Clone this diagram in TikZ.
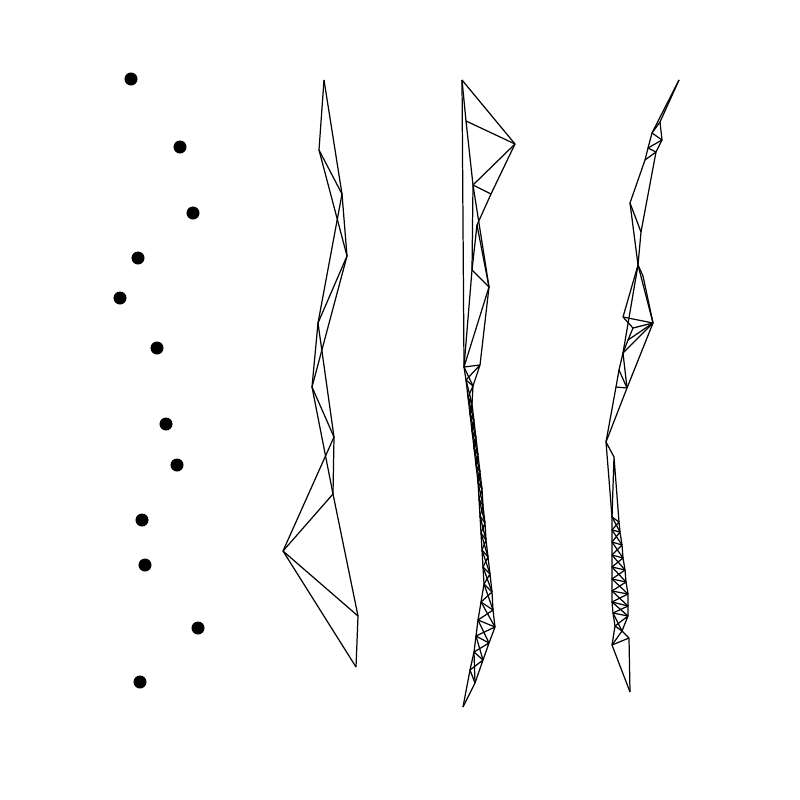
\documentclass[tikz,border=0pt]{standalone}
\usepackage{tikz}
\usetikzlibrary{positioning}
\tikzset{
  seed/.style={circle, fill=black, inner sep=0pt, minimum size=0.13cm},
  mesh/.style={black, line width=0.35pt, line join=round},
}
\begin{document}
\begin{tikzpicture}[x=0.01cm, y=-0.01cm]
  \useasboundingbox (0,0) rectangle (800,800);

  %% Point set
  \foreach \n/\x/\y in {p1/131/79, p2/180/147, p3/193/213, p4/138/258,
      p5/120/298, p6/157/348, p7/166/424, p8/177/465, p9/142/520,
      p10/145/565, p11/198/628, p12/140/682}
    \node[seed] (\n) at (\x,\y) {};

  %% Mesh 1
  \foreach \n/\x/\y in {a1/324/80, a2/319/150, a3/342/194, a4/347/256,
      a5/318/323, a6/312/387, a7/334/437, a8/333/494, a9/283/551,
      a10/358/616, a11/356/667}
    \coordinate (\n) at (\x,\y);
  \foreach \u/\v in {a1/a2, a1/a3, a2/a3, a2/a4, a3/a4, a3/a5, a4/a5,
      a4/a6, a5/a6, a5/a7, a6/a7, a6/a8, a7/a8, a7/a9, a8/a9, a8/a10,
      a9/a10, a9/a11, a10/a11}
    \draw[mesh] (\u) -- (\v);

  %% Mesh 2
  \foreach \n/\x/\y in {t1/462/80, t2/466/121, t3/515/144, t4/473/185,
      t5/491/194, t6/477/225, t7/472/270, t8/489/287}
    \coordinate (\n) at (\x,\y);
  \foreach \n/\x/\y in {1/464/367, 2/480/365, 3/466/380, 4/473/386,
      5/468/397, 6/472/404, 7/470/414, 8/474/421, 9/472/431, 10/476/438,
      11/474/448, 12/478/455, 13/476/465, 14/480/472, 15/478/482,
      16/482/489, 17/479/499, 18/483/506, 19/480/516, 20/485/523,
      21/481/533, 22/486/540, 23/482/550, 24/488/557, 25/483/567,
      26/490/574, 27/484/584, 28/492/592, 29/481/602, 30/493/610,
      31/478/620, 32/495/627, 33/476/636, 34/489/643, 35/474/652,
      36/483/660, 37/470/670, 38/475/683, 39/463/707}
    \coordinate (s\n) at (\x,\y);
  \foreach \u/\v in {t1/t2, t1/t3, t2/t3, t1/s1, t2/t4, t3/t4, t4/t5,
      t3/t5, t5/t6, t4/t8, t6/t8, t6/t7, t4/t7, t7/t8, t7/s1, t8/s1,
      t8/s2}
    \draw[mesh] (\u) -- (\v);
  \foreach \i [evaluate=\i as \j using int(\i+1),
               evaluate=\i as \k using int(\i+2)] in {1,...,37}
    \draw[mesh] (s\j) -- (s\i) -- (s\k);
  \draw[mesh] (s38) -- (s39);
  \foreach \i [evaluate=\i as \k using int(\i+3)] in {1,3,...,35}
    \draw[mesh] (s\i) -- (s\k);

  %% Mesh 3
  \foreach \n/\x/\y in {u1/679/80, u2/660/122, u3/652/133, u4/662/140,
      u5/648/148, u6/656/152, u7/645/160, u8/630/203, u9/641/232,
      u10/638/265, u12/643/276, u11/653/323, u13/623/317, u14/633/328,
      u15/628/340, u16/623/353, u19/619/370, u17/616/387, u18/627/388}
    \coordinate (\n) at (\x,\y);
  \foreach \n/\x/\y in {1/606/442, 2/614/457, 3/612/517, 4/619/522,
      5/612/530, 6/620/532, 7/612/542, 8/622/545, 9/612/555, 10/623/558,
      11/612/567, 12/625/570, 13/612/579, 14/626/582, 15/612/591,
      16/628/594, 17/612/602, 18/628/606, 19/613/613, 20/628/616,
      21/615/626, 22/622/631, 23/612/645, 24/629/638, 25/630/692}
    \coordinate (w\n) at (\x,\y);
  \foreach \u/\v in {u1/u2, u1/u3, u2/u3, u2/u4, u3/u4, u3/u5, u4/u5,
      u4/u6, u5/u6, u5/u7, u6/u7, u7/u8, u6/u9, u8/u9, u8/u10, u9/u10,
      u10/u12, u12/u11, u10/u11, u10/u13, u11/u13, u11/u14, u11/u15,
      u11/u16, u11/u18, u13/u14, u14/u15, u15/u16, u10/u16, u16/u19,
      u19/u17, u19/u18, u16/u18, u17/u18, u17/w1, u18/w1}
    \draw[mesh] (\u) -- (\v);
  \foreach \i [evaluate=\i as \j using int(\i+1),
               evaluate=\i as \k using int(\i+2)] in {1,...,23}
    \draw[mesh] (w\j) -- (w\i) -- (w\k);
  \draw[mesh] (w24) -- (w25);
  \foreach \i [evaluate=\i as \k using int(\i+3)] in {3,5,...,19}
    \draw[mesh] (w\i) -- (w\k);

\end{tikzpicture}
\end{document}
